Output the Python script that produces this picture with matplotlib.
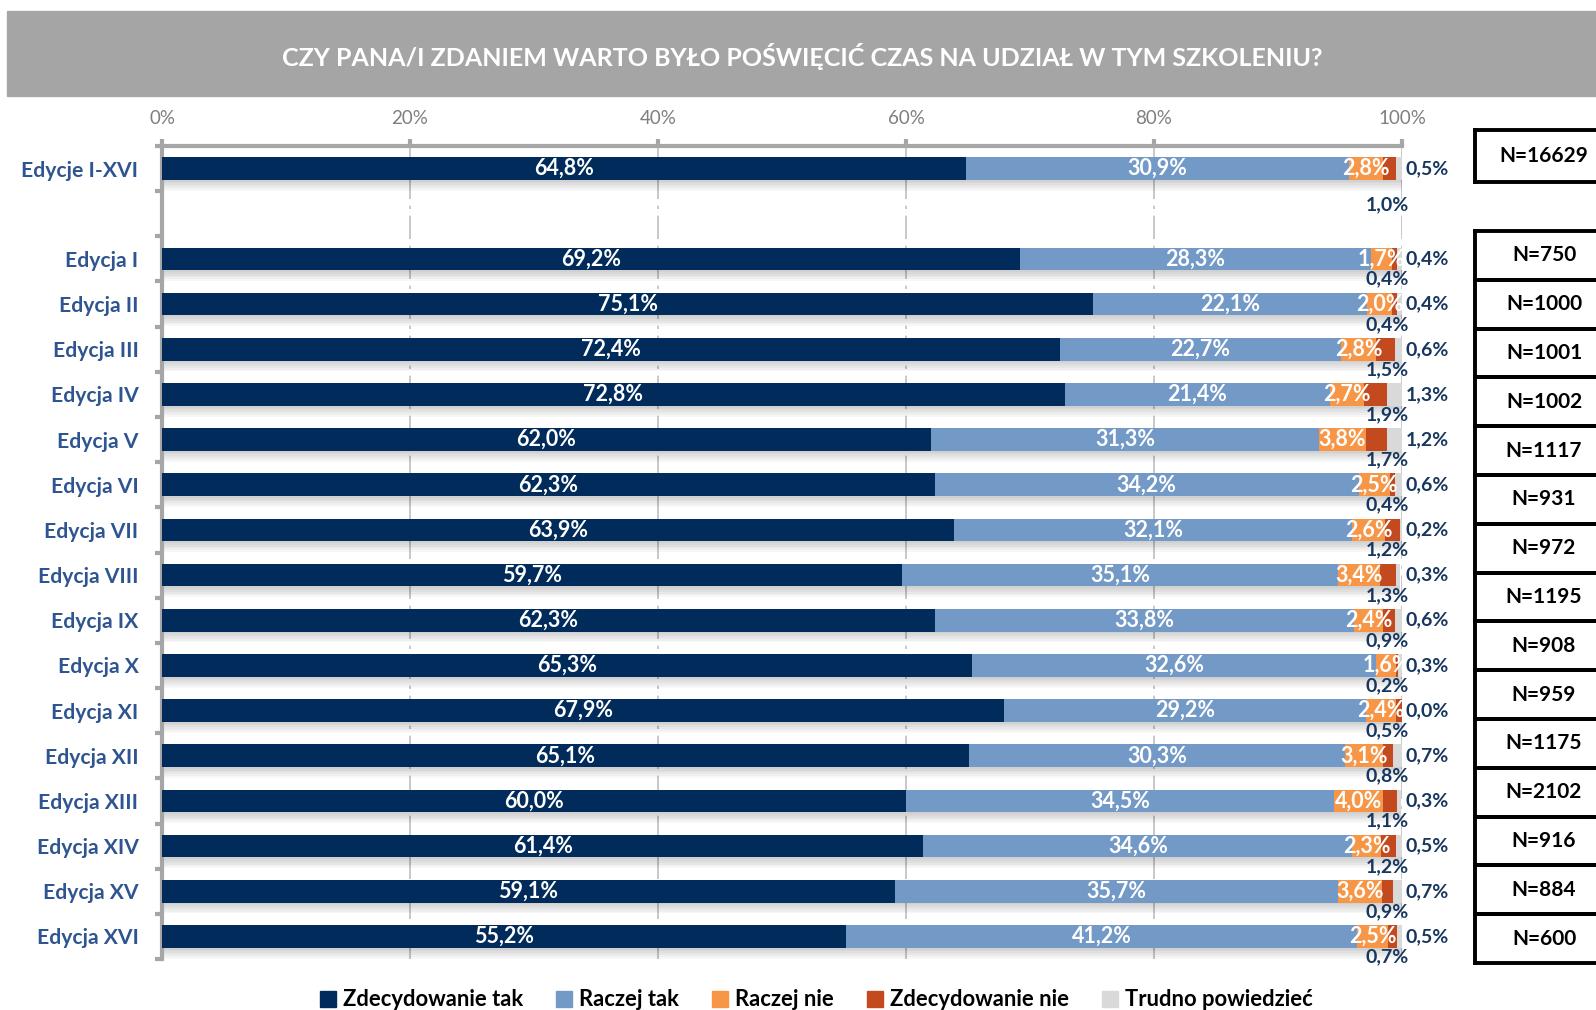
import numpy as np
import matplotlib
matplotlib.use("Agg")
import matplotlib.pyplot as plt
from matplotlib.patches import Rectangle, Patch
from matplotlib.lines import Line2D

plt.rcParams['font.family'] = ['Lato', 'DejaVu Sans']

# data
title = "CZY PANA/I ZDANIEM WARTO BYŁO POŚWIĘCIĆ CZAS NA UDZIAŁ W TYM SZKOLENIU?"
categories = ["Edycje I-XVI", "Edycja I", "Edycja II", "Edycja III", "Edycja IV",
              "Edycja V", "Edycja VI", "Edycja VII", "Edycja VIII", "Edycja IX",
              "Edycja X", "Edycja XI", "Edycja XII", "Edycja XIII", "Edycja XIV",
              "Edycja XV", "Edycja XVI"]
series = ["Zdecydowanie tak", "Raczej tak", "Raczej nie", "Zdecydowanie nie", "Trudno powiedzieć"]
zdec_tak = [64.8, 69.2, 75.1, 72.4, 72.8, 62.0, 62.3, 63.9, 59.7, 62.3, 65.3, 67.9, 65.1, 60.0, 61.4, 59.1, 55.2]
raczej_tak = [30.9, 28.3, 22.1, 22.7, 21.4, 31.3, 34.2, 32.1, 35.1, 33.8, 32.6, 29.2, 30.3, 34.5, 34.6, 35.7, 41.2]
raczej_nie = [2.8, 1.7, 2.0, 2.8, 2.7, 3.8, 2.5, 2.6, 3.4, 2.4, 1.6, 2.4, 3.1, 4.0, 2.3, 3.6, 2.5]
zdec_nie = [1.0, 0.4, 0.4, 1.5, 1.9, 1.7, 0.4, 1.2, 1.3, 0.9, 0.2, 0.5, 0.8, 1.1, 1.2, 0.9, 0.7]
trudno = [0.5, 0.4, 0.4, 0.6, 1.3, 1.2, 0.6, 0.2, 0.3, 0.6, 0.3, 0.0, 0.7, 0.3, 0.5, 0.7, 0.5]
n_total = 16629
n_editions = [750, 1000, 1001, 1002, 1117, 931, 972, 1195, 908, 959, 1175, 2102, 916, 884, 600]

colors = ["#002B5A", "#7399C7", "#F79646", "#C24A1E", "#D9D9D9"]
label_blue = "#2E5590"
value_blue = "#17375E"
axis_gray = "#A6A6A6"

def pct(v):
    return f"{v:.1f}".replace(".", ",") + "%"

W, H = 1596, 1010
fig = plt.figure(figsize=(W / 100, H / 100), dpi=100)

# gray title band
fig.patches.append(Rectangle((7 / W, 1 - 96 / H), 1, 85 / H, transform=fig.transFigure,
                             color="#A5A5A5", zorder=0))
fig.text(802 / W, 1 - 56 / H, title, color="white", fontsize=18, fontweight="bold",
         ha="center", va="center")

ax = fig.add_axes([162 / W, 1 - 959 / H, (1402 - 162) / W, (959 - 146) / H])

# total row at 0, one empty row, then editions
ypos = np.array([0] + list(range(2, 2 + len(categories) - 1)), dtype=float)
data = np.array([zdec_tak, raczej_tak, raczej_nie, zdec_nie, trudno])
bar_h = 0.5

# soft shadow under each bar
for k in range(1, 7):
    ax.barh(ypos + 0.04 * k, data.sum(axis=0), height=bar_h, color="black",
            alpha=0.03, linewidth=0, zorder=1)

left = np.zeros(len(categories))
for i, (name, vals) in enumerate(zip(series, data)):
    ax.barh(ypos, vals, left=left, height=bar_h, color=colors[i], label=name,
            linewidth=0, zorder=3)
    for y, l, v in zip(ypos, left, vals):
        if i < 3:
            ax.text(l + v / 2, y, pct(v), color="white", fontsize=15.5, fontweight="bold",
                    ha="center", va="center", zorder=5)
        elif i == 3:
            dy = 0.8 if y == 0 else 0.45
            ax.text(98.8, y + dy, pct(v), color=value_blue, fontsize=14, fontweight="bold",
                    ha="center", va="center", zorder=5, clip_on=False)
        else:
            ax.text(100.3, y, pct(v), color=value_blue, fontsize=14, fontweight="bold",
                    ha="left", va="center", zorder=5, clip_on=False)
    left += vals

ax.set_xlim(0, 100)
ax.set_ylim(17.5, -0.5)
ax.set_facecolor("none")

# gridlines
for gx in [20, 40, 60, 80, 100]:
    ax.axvline(gx, color="#BFBFBF", lw=1.2, linestyle=(0, (14, 4, 2, 4)), zorder=0.5)

for s in ["right", "bottom"]:
    ax.spines[s].set_visible(False)
for s in ["left", "top"]:
    ax.spines[s].set_color(axis_gray)
    ax.spines[s].set_linewidth(3)

ax.xaxis.tick_top()
ax.set_xticks([0, 20, 40, 60, 80, 100])
ax.set_xticklabels([f"{t}%" for t in [0, 20, 40, 60, 80, 100]])
ax.tick_params(axis="x", colors=axis_gray, labelcolor="#7F7F7F", labelsize=13.5,
               length=5, width=3, pad=9, direction="out")

ax.set_yticks(ypos)
ax.set_yticklabels(categories)
ax.set_yticks(np.arange(-0.5, 18, 1), minor=True)
ax.tick_params(axis="y", which="major", length=0, pad=17, labelsize=15.2, labelcolor=label_blue)
ax.tick_params(axis="y", which="minor", length=5, width=3, colors=axis_gray)
for t in ax.get_yticklabels():
    t.set_fontweight("bold")

# N boxes on the right
def nbox(top, bottom, text):
    x0 = 1475 / W
    y0, y1 = 1 - top / H, 1 - bottom / H
    for xs, ys in [([x0, 1.01], [y0, y0]), ([x0, 1.01], [y1, y1]), ([x0, x0], [y0, y1])]:
        fig.add_artist(Line2D(xs, ys, color="black", lw=2.8, transform=fig.transFigure))
    fig.text(1544 / W, (y0 + y1) / 2, text, fontsize=15, fontweight="bold", color="black",
             ha="center", va="center")

nbox(130, 182, f"N={n_total}")
cell = (963 - 231) / len(n_editions)
for j, n in enumerate(n_editions):
    nbox(231 + j * cell, 231 + (j + 1) * cell, f"N={n}")

handles = [Patch(color=c, label=s) for c, s in zip(colors, series)]
leg = fig.legend(handles=handles, loc="center", bbox_to_anchor=(816 / W, 1 - 1000 / H), ncol=5,
                 frameon=False, handlelength=0.75, handleheight=0.75, handletextpad=0.3,
                 columnspacing=1.5, prop={"weight": "bold", "size": 15.8})

fig.savefig("out.png", dpi=100)
